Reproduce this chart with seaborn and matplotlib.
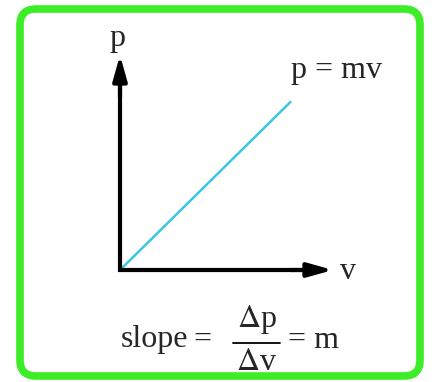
import seaborn as sns
import matplotlib.pyplot as plt
import pandas as pd
from matplotlib.patches import FancyBboxPatch

# Data: p = m v with m = 1
velocity = [0.0, 1.0]
momentum = [0.0, 1.0]
data = pd.DataFrame({"v": velocity, "p": momentum})

sns.set_style("white")
plt.rcParams["font.family"] = ["Liberation Serif", "DejaVu Serif"]
plt.rcParams["mathtext.fontset"] = "stix"
FS = 23

fig = plt.figure(figsize=(4.32, 3.82), dpi=100)

# decoration layer in pixel units (frame)
deco = fig.add_axes([0, 0, 1, 1])
deco.set_xlim(0, 432)
deco.set_ylim(382, 0)
deco.axis("off")
frame = FancyBboxPatch((20, 9), 400, 367, boxstyle="round,pad=0,rounding_size=16",
                       fill=False, edgecolor="#3ded27", linewidth=5.5)
deco.add_patch(frame)

# main plot axes; origin at the corner of the arrows
ax = fig.add_axes([120 / 432, 1 - 270 / 382, 213 / 432, 215 / 382])
ax.patch.set_alpha(0)
sns.lineplot(data=data, x="v", y="p", ax=ax, color="#3cc6e4", linewidth=1.8)
ax.set_xlim(0, 1.25)
ax.set_ylim(0, 1.28)
for s in ax.spines.values():
    s.set_visible(False)
ax.set_xticks([])
ax.set_yticks([])
ax.set_xlabel("")
ax.set_ylabel("")

# L-shaped axes with arrow heads
ax.plot([0, 0, 0.9], [0.9, 0, 0], transform=ax.transAxes, color="black", lw=3,
        solid_joinstyle="miter", clip_on=False)
arrow = dict(arrowstyle="-|>,head_length=1.5,head_width=0.42", color="black", lw=3,
             shrinkA=0, shrinkB=0)
ax.annotate("", xy=(1.0, 0), xytext=(0.8, 0), xycoords="axes fraction",
            arrowprops=arrow, annotation_clip=False)
ax.annotate("", xy=(0, 1.0), xytext=(0, 0.8), xycoords="axes fraction",
            arrowprops=arrow, annotation_clip=False)

ax.text(-0.01, 1.075, "p", transform=ax.transAxes, ha="center", va="center", fontsize=FS)
ax.text(1.07, -0.005, "v", transform=ax.transAxes, ha="center", va="center", fontsize=FS)
ax.text(1.015, 0.93, "p = mv", transform=ax.transAxes, ha="center", va="center", fontsize=FS)

# slope formula
deco.text(155, 340, "slope", ha="center", va="center", fontsize=FS)
deco.text(202, 340, "=", ha="center", va="center", fontsize=FS)
deco.text(257, 320, r"$\Delta$p", ha="center", va="center", fontsize=FS)
deco.plot([233, 280], [343, 343], color="black", lw=1.3)
deco.text(257, 362, r"$\Delta$v", ha="center", va="center", fontsize=FS)
deco.text(313, 340, "= m", ha="center", va="center", fontsize=FS)

fig.savefig("out.png", dpi=100)
